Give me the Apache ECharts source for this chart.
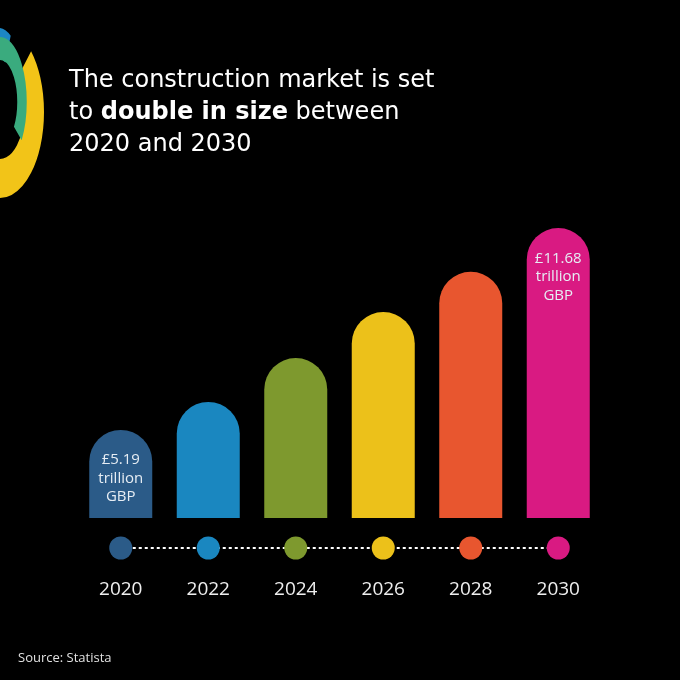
<!DOCTYPE html>
<html>
<head>
<meta charset="utf-8">
<script src="https://cdn.jsdelivr.net/npm/echarts@6/dist/echarts.min.js"></script>
<style>
html,body{margin:0;padding:0;background:#000;}
#chart{width:680px;height:680px;}
</style>
</head>
<body>
<div id="chart"></div>
<script>
const years = ['2020', '2022', '2024', '2026', '2028', '2030'];
const values = [5.19, 6.09, 7.50, 8.98, 10.27, 11.68];
const barColors = ['#2b5b88', '#1a87c0', '#7e992e', '#ecc11a', '#e8562f', '#d91a82'];
const valueLabels = ['£5.19\ntrillion\nGBP', '', '', '', '', '£11.68\ntrillion\nGBP'];
const timelineLevel = [1, 1, 1, 1, 1, 1];

const FONT = '"Open Sans"';
const TITLE_FONT = '"DejaVu Sans"';

const chart = echarts.init(document.getElementById('chart'));

const barData = values.map((v, i) => ({
  value: v,
  itemStyle: { color: barColors[i] },
  label: { show: !!valueLabels[i], formatter: valueLabels[i] }
}));
const dotData = timelineLevel.map((v, i) => ({
  value: v,
  itemStyle: { color: barColors[i], opacity: 1 }
}));

chart.setOption({
  backgroundColor: '#000',
  animation: false,
  title: {
    left: 64,
    top: 60,
    text: '{n|The construction market is set}\n{n|to }{b|double in size}{n| between}\n{n|2020 and 2030}',
    textStyle: {
      rich: {
        n: { fontFamily: TITLE_FONT, fontSize: 24, fontWeight: 'normal', color: '#ffffff', lineHeight: 32 },
        b: { fontFamily: TITLE_FONT, fontSize: 24, fontWeight: 'bold', color: '#ffffff', lineHeight: 32 }
      }
    }
  },
  graphic: [
    {
      type: 'arc', x: 0, y: 112, scaleY: 1.956,
      shape: { cx: 0, cy: 0, r: 34, startAngle: -Math.PI * 0.25, endAngle: Math.PI * 0.58 },
      style: { stroke: '#f2c418', fill: null, lineWidth: 20, strokeNoScale: true }, silent: true
    },
    {
      type: 'arc', x: -2, y: 98, scaleY: 2.5,
      shape: { cx: 0, cy: 0, r: 22, startAngle: -Math.PI * 0.75, endAngle: -Math.PI * 0.35 },
      style: { stroke: '#1c86c4', fill: null, lineWidth: 12 }, silent: true
    },
    {
      type: 'arc', x: 0, y: 102, scaleY: 2.43,
      shape: { cx: 0, cy: 0, r: 22, startAngle: -Math.PI * 0.7, endAngle: Math.PI * 0.2 },
      style: { stroke: '#3aab7e', fill: null, lineWidth: 9.5 }, silent: true
    },
    {
      type: 'text', left: 18, top: 652,
      style: { text: 'Source: Statista', fill: '#e0e0e0', font: 'normal 13px ' + FONT }
    }
  ],
  grid: [
    { left: 77, right: 78, top: 228, bottom: 162 },
    { left: 77, right: 78, top: 538, height: 20 }
  ],
  xAxis: [
    {
      type: 'category', gridIndex: 0, data: years,
      axisLine: { show: false }, axisTick: { show: false }, axisLabel: { show: false }
    },
    {
      type: 'category', gridIndex: 1, data: years,
      axisLine: { show: false }, axisTick: { show: false },
      axisLabel: { color: '#eeeeee', fontFamily: FONT, fontSize: 19, fontWeight: 'normal', margin: 22 }
    }
  ],
  yAxis: [
    { type: 'value', gridIndex: 0, min: 2.36, max: 11.68, show: false, splitLine: { show: false } },
    { type: 'value', gridIndex: 1, min: 0, max: 2, show: false, splitLine: { show: false } }
  ],
  series: [
    {
      type: 'bar', xAxisIndex: 0, yAxisIndex: 0, data: barData,
      barWidth: 63,
      itemStyle: { borderRadius: [31.5, 31.5, 0, 0] },
      label: {
        position: 'insideTop', distance: 21,
        color: '#e6edf4', fontFamily: FONT, fontSize: 15, fontWeight: 'normal',
        lineHeight: 18.5, align: 'center'
      }
    },
    {
      type: 'line', xAxisIndex: 1, yAxisIndex: 1, data: timelineLevel,
      symbol: 'none', z: 1,
      lineStyle: { color: '#ffffff', width: 2, type: [3, 3] }
    },
    {
      type: 'scatter', xAxisIndex: 1, yAxisIndex: 1, data: dotData,
      symbolSize: 23, z: 3
    }
  ]
});
</script>
</body>
</html>
